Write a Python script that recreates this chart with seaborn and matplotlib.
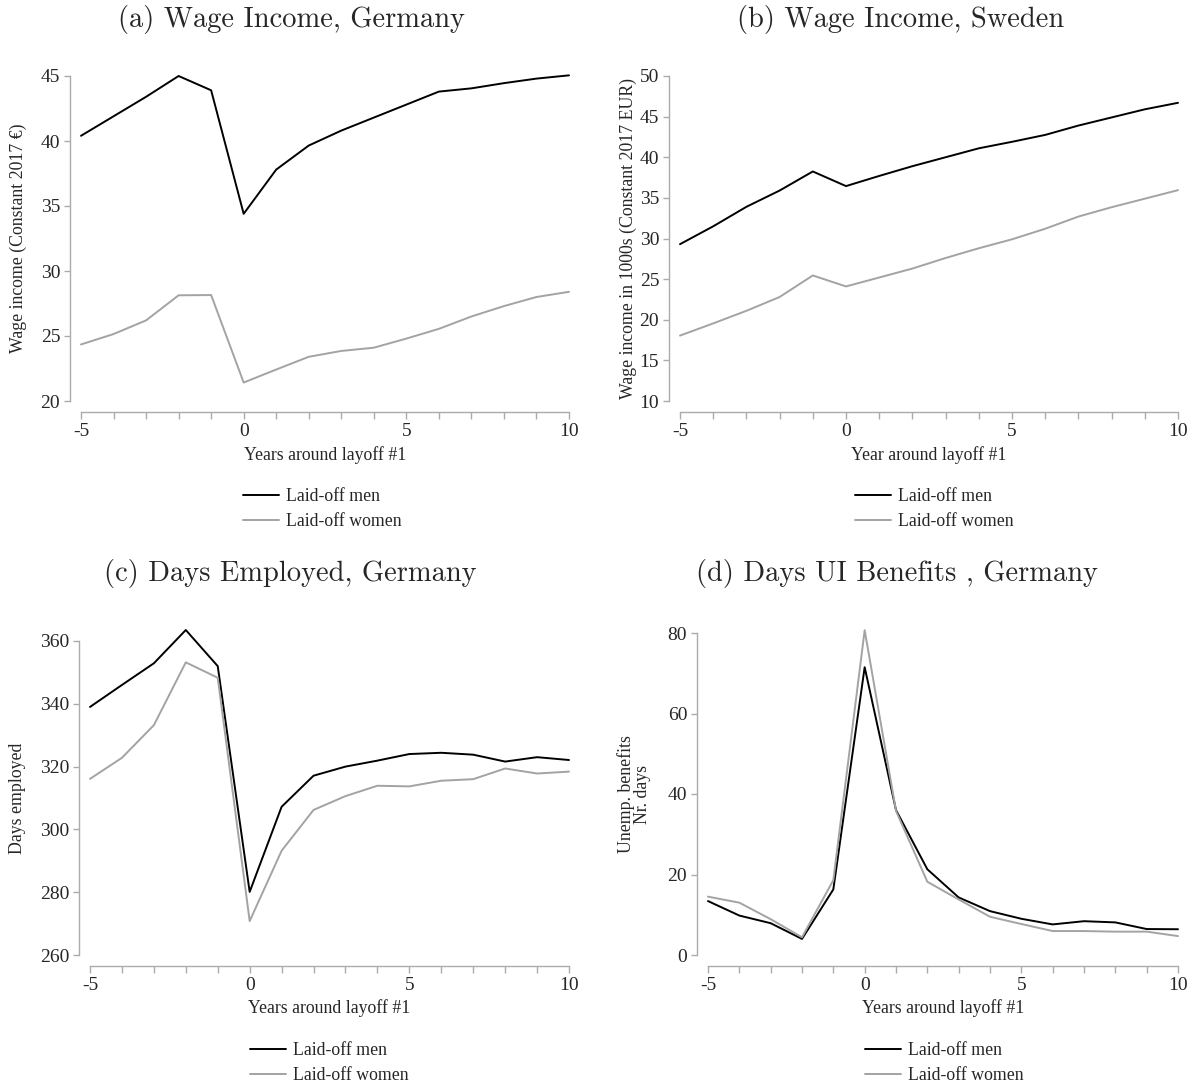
import numpy as np
import pandas as pd
import matplotlib
matplotlib.use("Agg")
import matplotlib.pyplot as plt
import matplotlib.transforms as mtransforms
from matplotlib.ticker import FixedLocator
import seaborn as sns

years = list(range(-5, 11))
groups = ["Laid-off men", "Laid-off women"]

# (a) Wage income, Germany
wage_de_men = [40.4, 41.9, 43.4, 45.0, 43.9, 34.4, 37.8, 39.65, 40.8, 41.8, 42.8, 43.8, 44.05, 44.45, 44.8, 45.05]
wage_de_women = [24.35, 25.15, 26.2, 28.13, 28.15, 21.42, 22.42, 23.4, 23.85, 24.1, 24.8, 25.55, 26.5, 27.3, 28.0, 28.4]
# (b) Wage income, Sweden
wage_se_men = [29.3, 31.5, 33.9, 35.9, 38.25, 36.45, 37.7, 38.9, 40.0, 41.1, 41.9, 42.75, 43.9, 44.9, 45.9, 46.7]
wage_se_women = [18.05, 19.55, 21.1, 22.8, 25.45, 24.1, 25.2, 26.3, 27.6, 28.8, 29.9, 31.2, 32.7, 33.85, 34.9, 35.95]
# (c) Days employed, Germany
days_men = [339.0, 346.0, 352.9, 363.5, 352.0, 280.1, 307.2, 317.1, 320.0, 321.9, 324.0, 324.4, 323.8, 321.6, 323.0, 322.1]
days_women = [316.1, 322.8, 333.2, 353.2, 348.3, 270.8, 293.2, 306.2, 310.6, 313.9, 313.7, 315.5, 316.0, 319.4, 317.8, 318.4]
# (d) Days UI benefits, Germany
ui_men = [13.4, 9.8, 7.9, 4.0, 16.3, 71.5, 36.0, 21.3, 14.3, 10.9, 9.0, 7.6, 8.4, 8.1, 6.45, 6.4]
ui_women = [14.5, 13.0, 8.9, 4.4, 18.6, 80.7, 35.8, 18.2, 13.8, 9.5, 7.7, 5.95, 5.95, 5.8, 5.8, 4.7]

titles = ["(a) Wage Income, Germany", "(b) Wage Income, Sweden",
          "(c) Days Employed, Germany", "(d) Days UI Benefits , Germany"]
ylabels = ["Wage income (Constant 2017 \u20ac)", "Wage income in 1000s (Constant 2017 EUR)",
           "Days employed", "Unemp. benefits\nNr. days"]
xlabels = ["Years around layoff #1", "Year around layoff #1",
           "Years around layoff #1", "Years around layoff #1"]
yticks = [[20, 25, 30, 35, 40, 45], [10, 15, 20, 25, 30, 35, 40, 45, 50],
          [260, 280, 300, 320, 340, 360], [0, 20, 40, 60, 80]]
xticks_major = [-5, 0, 5, 10]

series = [(wage_de_men, wage_de_women), (wage_se_men, wage_se_women),
          (days_men, days_women), (ui_men, ui_women)]

sns.set_style("ticks")
plt.rcParams["font.family"] = ["Liberation Serif", "DejaVu Serif"]
plt.rcParams["axes.unicode_minus"] = False

W, H = 1195, 1086
fig = plt.figure(figsize=(W / 100, H / 100), dpi=100)

def rect(x0, x1, yt, yb):
    return [x0 / W, 1 - yb / H, (x1 - x0) / W, (yb - yt) / H]

# data-area boxes in pixels: (x_left, x_right, y_top, y_bottom)
boxes = [(81, 569, 76, 401), (680, 1178, 76, 401), (90, 569, 641, 955), (708, 1178, 633, 955)]
ylabel_x = [18, 628, 18, 634]
title_pos = [(291, 20), (901, 20), (290, 573), (897, 573)]
xlabel_y = [455, 455, 1008, 1008]
legend_pos = [(243, 509), (855, 509), (250, 1063), (865, 1063)]

palette = {"Laid-off men": "black", "Laid-off women": "#a3a3a3"}
gray = "#ababab"

for i in range(4):
    ax = fig.add_axes(rect(*boxes[i]))
    men, women = series[i]
    df = pd.DataFrame({
        "year": years + years,
        "value": list(men) + list(women),
        "group": [groups[0]] * len(years) + [groups[1]] * len(years),
    })
    sns.lineplot(data=df, x="year", y="value", hue="group", palette=palette,
                 ax=ax, linewidth=1.4, legend=True)
    for ln in ax.lines:
        ln.set_clip_on(False)
    ax.set_xlim(-5, 10)
    ax.set_ylim(yticks[i][0], yticks[i][-1])
    ax.xaxis.set_major_locator(FixedLocator(xticks_major))
    ax.xaxis.set_minor_locator(FixedLocator(years))
    ax.set_yticks(yticks[i])
    ax.set_yticklabels([str(v) for v in yticks[i]])
    ax.set_xticklabels([str(v) for v in xticks_major])
    for s in ["top", "right"]:
        ax.spines[s].set_visible(False)
    for s in ["left", "bottom"]:
        ax.spines[s].set_position(("outward", 8))
        ax.spines[s].set_color(gray)
        ax.spines[s].set_linewidth(1.0)
    ax.tick_params(axis="x", which="both", length=5, width=1.0, color=gray,
                   labelsize=14, pad=3)
    ax.tick_params(axis="y", which="both", length=4, width=1.0, color=gray,
                   labelsize=14, pad=3)
    ax.set_xlabel(xlabels[i], fontsize=12.8)
    ax.set_ylabel(ylabels[i], fontsize=12.8, linespacing=0.95)
    ax.yaxis.label.set_va("center")
    ax.xaxis.label.set_va("center")
    ax.yaxis.set_label_coords(ylabel_x[i] / W, 0.5,
                              transform=mtransforms.blended_transform_factory(fig.transFigure, ax.transAxes))
    ax.xaxis.set_label_coords(0.5, 1 - xlabel_y[i] / H,
                              transform=mtransforms.blended_transform_factory(ax.transAxes, fig.transFigure))
    handles, labels = ax.get_legend_handles_labels()
    ax.legend(handles, labels, loc="center left",
              bbox_to_anchor=(legend_pos[i][0] / W, 1 - legend_pos[i][1] / H),
              bbox_transform=fig.transFigure, frameon=False, fontsize=12.8,
              handlelength=2.0, handletextpad=0.4, labelspacing=0.42,
              borderpad=0, borderaxespad=0)
    fig.text(title_pos[i][0] / W, 1 - title_pos[i][1] / H, titles[i],
             ha="center", va="center", fontsize=20.5, family="cmr10")

fig.savefig("out.png", dpi=100, facecolor="white")
